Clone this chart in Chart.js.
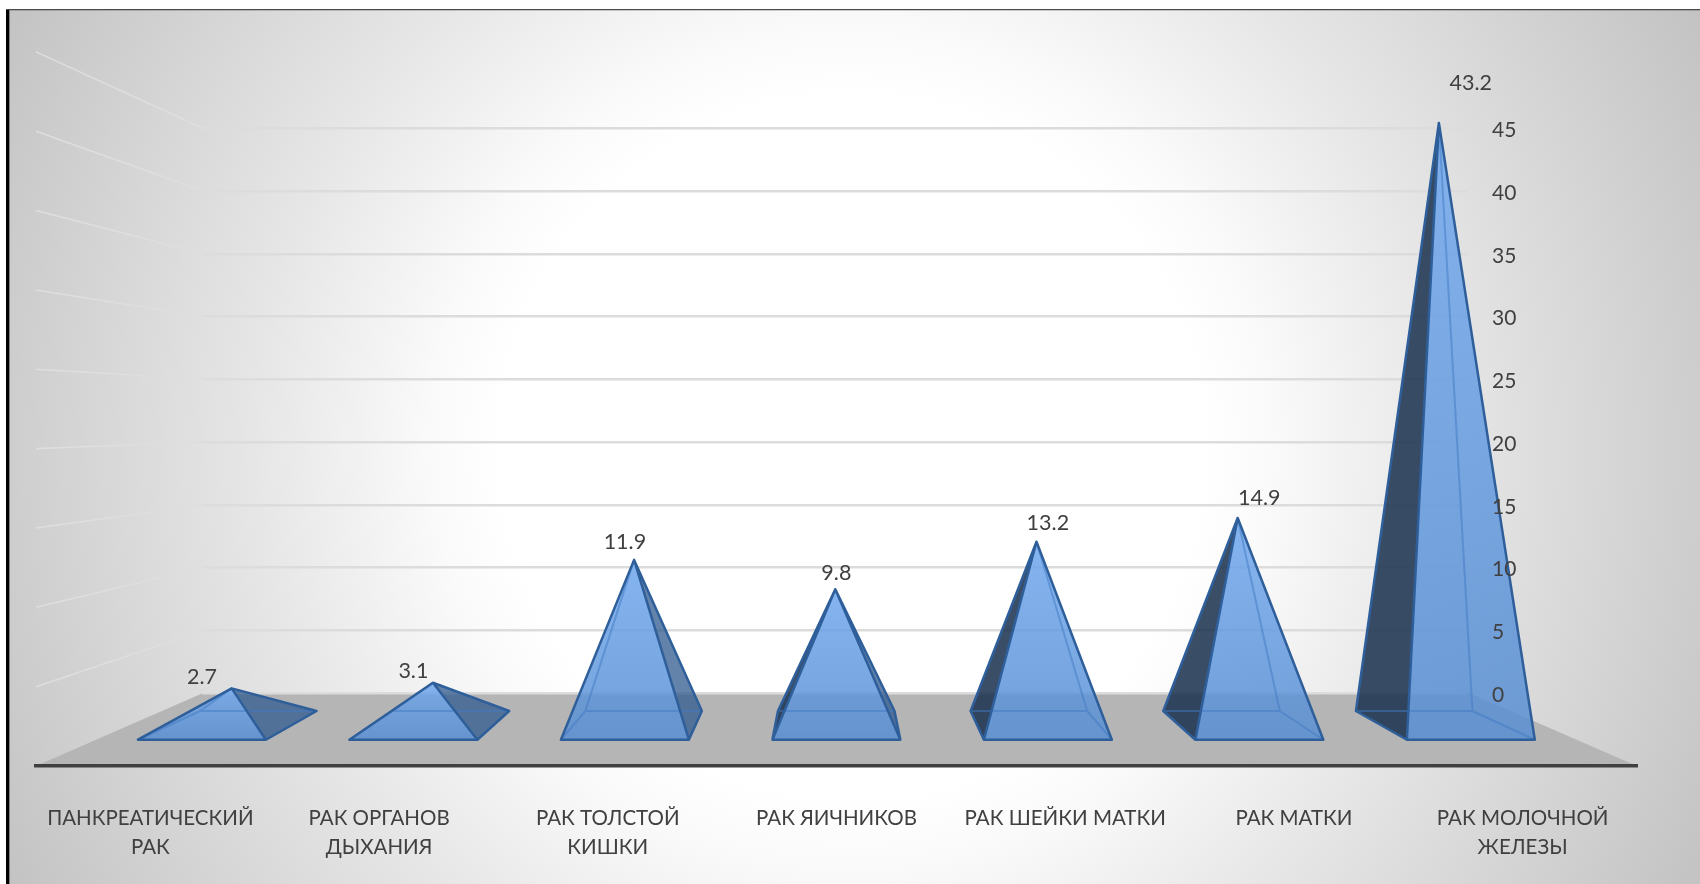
<!DOCTYPE html>
<html lang="ru">
<head>
<meta charset="utf-8">
<title>Онкологические заболевания</title>
<style>
  html, body { margin: 0; padding: 0; background: #fff; }
  canvas { display: block; }
</style>
<script src="https://cdn.jsdelivr.net/npm/chart.js@4/dist/chart.umd.js"></script>
</head>
<body>
<canvas id="chart" width="1700" height="884"></canvas>
<script>
const categories = [
  ['ПАНКРЕАТИЧЕСКИЙ', 'РАК'],
  ['РАК ОРГАНОВ', 'ДЫХАНИЯ'],
  ['РАК ТОЛСТОЙ', 'КИШКИ'],
  ['РАК ЯИЧНИКОВ'],
  ['РАК ШЕЙКИ МАТКИ'],
  ['РАК МАТКИ'],
  ['РАК МОЛОЧНОЙ', 'ЖЕЛЕЗЫ']
];
const values = [2.7, 3.1, 11.9, 9.8, 13.2, 14.9, 43.2];
const axisMax = 45;
const axisStep = 5;

const FONT = 'Lato, "Open Sans", "Noto Sans", sans-serif';
const TEXT = '#404040';

// Perspective of the 3D box: depth 0 is the back wall, depth 1 the front edge.
const VIEW = { cx: 834.8, floorDepth: 73, grow: 0.2646, frontEdge: 766, left: 36, right: 1637 };
const DEPTH = { back: 0.2466, middle: 0.425, front: 0.64 };
const APEX_SHIFT = { x: -1, y: 2 };

function project(chart, xFront, yWall, depth) {
  const base = chart.scales.y.getPixelForValue(0);
  const s = 1 + VIEW.grow * depth;
  return {
    x: VIEW.cx + (xFront - VIEW.cx) * s / (1 + VIEW.grow),
    y: base + VIEW.floorDepth * depth - (base - yWall) * s
  };
}

function poly(ctx, pts) {
  ctx.beginPath();
  pts.forEach((p, i) => i ? ctx.lineTo(p.x, p.y) : ctx.moveTo(p.x, p.y));
  ctx.closePath();
}

// Which side a point lies on relative to the line a-b.
function side(a, b, p) {
  return (b.x - a.x) * (p.y - a.y) - (b.y - a.y) * (p.x - a.x);
}

const boxPlugin = {
  id: 'box',
  beforeDraw(chart) {
    const { ctx, width, height } = chart;
    ctx.save();
    ctx.fillStyle = '#ffffff';
    ctx.fillRect(0, 0, width, height);

    const R = 960;
    const g = ctx.createRadialGradient(852, 447, 0, 852, 447, R);
    g.addColorStop(0, '#ffffff');
    g.addColorStop(350 / R, '#ffffff');
    g.addColorStop(420 / R, '#fafafa');
    g.addColorStop(500 / R, '#f1f1f1');
    g.addColorStop(600 / R, '#e6e6e6');
    g.addColorStop(700 / R, '#dcdcdc');
    g.addColorStop(840 / R, '#cecece');
    g.addColorStop(1, '#c2c2c2');
    ctx.fillStyle = g;
    ctx.fillRect(10, 10, width - 10, height - 10);

    ctx.fillStyle = '#000000';
    ctx.fillRect(6, 9, 3.5, height - 9);
    ctx.fillStyle = '#4a4a4a';
    ctx.fillRect(6, 9, width - 6, 1);
    ctx.fillStyle = 'rgba(0,0,0,0.18)';
    ctx.fillRect(10, 10, width - 10, 1);

    // Floor of the box, spanning the back wall to the front edge.
    const yz = chart.scales.y.getPixelForValue(0);
    const xs = chart.scales.x;
    const bl = project(chart, xs.left, yz, 0);
    const br = project(chart, xs.right, yz, 0);
    const fr = project(chart, xs.right, yz, 1);
    const fl = project(chart, xs.left, yz, 1);
    ctx.fillStyle = '#b5b5b5';
    poly(ctx, [bl, br, fr, fl]);
    ctx.fill();
    ctx.restore();
  },
  afterLayout(chart) {
    // The category axis runs along the front edge of the floor, not the wall.
    const xs = chart.scales.x;
    xs.left = VIEW.left;
    xs.right = VIEW.right;
    xs.width = VIEW.right - VIEW.left;
    xs.top = VIEW.frontEdge;
    xs.bottom = chart.height;
    xs.height = chart.height - VIEW.frontEdge;
    xs.configure();

    // Nudge the value labels so the digits sit centred on their gridlines.
    const ys = chart.scales.y;
    if (!ys.$nudged) {
      const compute = ys._computeLabelItems;
      ys._computeLabelItems = function (area) {
        const items = compute.call(this, area);
        items.forEach(it => { it.options.translation[1] += 2; });
        return items;
      };
      ys.$nudged = true;
    }
  },
  beforeDatasetsDraw(chart) {
    // Gridlines of the left wall, one per tick of the value axis.
    const { ctx } = chart;
    const ys = chart.scales.y;
    const xs = chart.scales.x;
    ctx.save();
    ctx.lineWidth = 1.6;
    ctx.strokeStyle = '#dedede';
    ys.ticks.forEach(t => {
      if (t.value === 0) return;
      const yp = ys.getPixelForValue(t.value);
      const a = project(chart, xs.left, yp, 1);
      const b = project(chart, xs.left, yp, 0);
      ctx.beginPath();
      ctx.moveTo(a.x, a.y);
      ctx.lineTo(b.x, b.y);
      ctx.stroke();
    });
    ctx.restore();
  },
  afterDatasetsDraw(chart) {
    const { ctx } = chart;
    const ys = chart.scales.y;
    const yz = ys.getPixelForValue(0);
    const bars = chart.getDatasetMeta(0).data;
    ctx.save();
    ctx.lineJoin = 'round';
    bars.forEach((bar, i) => {
      const half = bar.width / 2;
      const fl = project(chart, bar.x - half, yz, DEPTH.front);
      const fr = project(chart, bar.x + half, yz, DEPTH.front);
      const bl = project(chart, bar.x - half, yz, DEPTH.back);
      const br = project(chart, bar.x + half, yz, DEPTH.back);
      const top = project(chart, bar.x, bar.y, DEPTH.middle);
      const apex = { x: top.x + APEX_SHIFT.x, y: top.y + APEX_SHIFT.y };

      const leftOpen = side(apex, fl, bl) > 0;
      const rightOpen = side(apex, fr, br) < 0;

      // Far faces and base show through the translucent front.
      ctx.fillStyle = 'rgba(84,141,212,0.08)';
      poly(ctx, [bl, br, fr, fl]); ctx.fill();
      poly(ctx, [bl, br, apex]); ctx.fill();

      if (leftOpen) {
        ctx.fillStyle = 'rgba(28,50,78,0.86)';
        poly(ctx, [fl, bl, apex]); ctx.fill();
      }
      if (rightOpen) {
        ctx.fillStyle = 'rgba(48,90,142,0.74)';
        poly(ctx, [fr, br, apex]); ctx.fill();
      }

      const grad = ctx.createLinearGradient(0, apex.y, 0, fl.y);
      grad.addColorStop(0, 'rgba(112,168,238,0.84)');
      grad.addColorStop(1, 'rgba(88,142,210,0.84)');
      ctx.fillStyle = grad;
      poly(ctx, [fl, fr, apex]); ctx.fill();

      // Hidden edges, seen faintly through the front face.
      ctx.strokeStyle = 'rgba(64,122,196,0.5)';
      ctx.lineWidth = 2;
      ctx.beginPath();
      ctx.moveTo(bl.x, bl.y); ctx.lineTo(br.x, br.y);
      if (!leftOpen) { ctx.moveTo(fl.x, fl.y); ctx.lineTo(bl.x, bl.y); ctx.lineTo(apex.x, apex.y); }
      if (!rightOpen) { ctx.moveTo(fr.x, fr.y); ctx.lineTo(br.x, br.y); ctx.lineTo(apex.x, apex.y); }
      ctx.stroke();

      // Visible edges.
      ctx.strokeStyle = '#2f5f9a';
      ctx.lineWidth = 2.5;
      ctx.beginPath();
      ctx.moveTo(fl.x, fl.y); ctx.lineTo(fr.x, fr.y); ctx.lineTo(apex.x, apex.y); ctx.closePath();
      if (leftOpen) { ctx.moveTo(fl.x, fl.y); ctx.lineTo(bl.x, bl.y); ctx.lineTo(apex.x, apex.y); }
      if (rightOpen) { ctx.moveTo(fr.x, fr.y); ctx.lineTo(br.x, br.y); ctx.lineTo(apex.x, apex.y); }
      ctx.stroke();

      // Value label, anchored at the front plane of the category.
      const anchor = project(chart, bar.x, bar.y, DEPTH.front);
      ctx.fillStyle = TEXT;
      ctx.font = '21.5px ' + FONT;
      ctx.textAlign = 'center';
      ctx.textBaseline = 'middle';
      ctx.fillText(values[i].toFixed(1), anchor.x, anchor.y - 23);
    });
    ctx.restore();
  }
};

new Chart(document.getElementById('chart'), {
  type: 'bar',
  data: {
    labels: categories,
    datasets: [{
      data: values,
      backgroundColor: 'rgba(0,0,0,0)',
      borderWidth: 0,
      barPercentage: 0.605,
      categoryPercentage: 1,
      clip: false
    }]
  },
  plugins: [boxPlugin],
  options: {
    responsive: false,
    animation: false,
    layout: { padding: { left: 202, top: 128.3, right: 0, bottom: 0 } },
    plugins: { legend: { display: false }, title: { display: false }, tooltip: { enabled: false } },
    scales: {
      x: {
        position: 'bottom',
        grid: { display: false, drawTicks: false },
        border: { display: true, color: '#404040', width: 3.5 },
        afterFit(s) { s.height = 191; },
        ticks: {
          autoSkip: false,
          maxRotation: 0,
          minRotation: 0,
          padding: 38,
          color: TEXT,
          font: { family: FONT, size: 20.5, lineHeight: 1.41 }
        }
      },
      y: {
        position: 'right',
        min: 0,
        max: axisMax,
        grid: { color: '#dcdcdc', lineWidth: 2.4, drawTicks: false },
        border: { display: false },
        afterFit(s) { s.width = 232; },
        ticks: {
          stepSize: axisStep,
          padding: 24,
          z: 1,
          color: TEXT,
          font: { family: FONT, size: 21 }
        }
      }
    }
  }
});
</script>
</body>
</html>
